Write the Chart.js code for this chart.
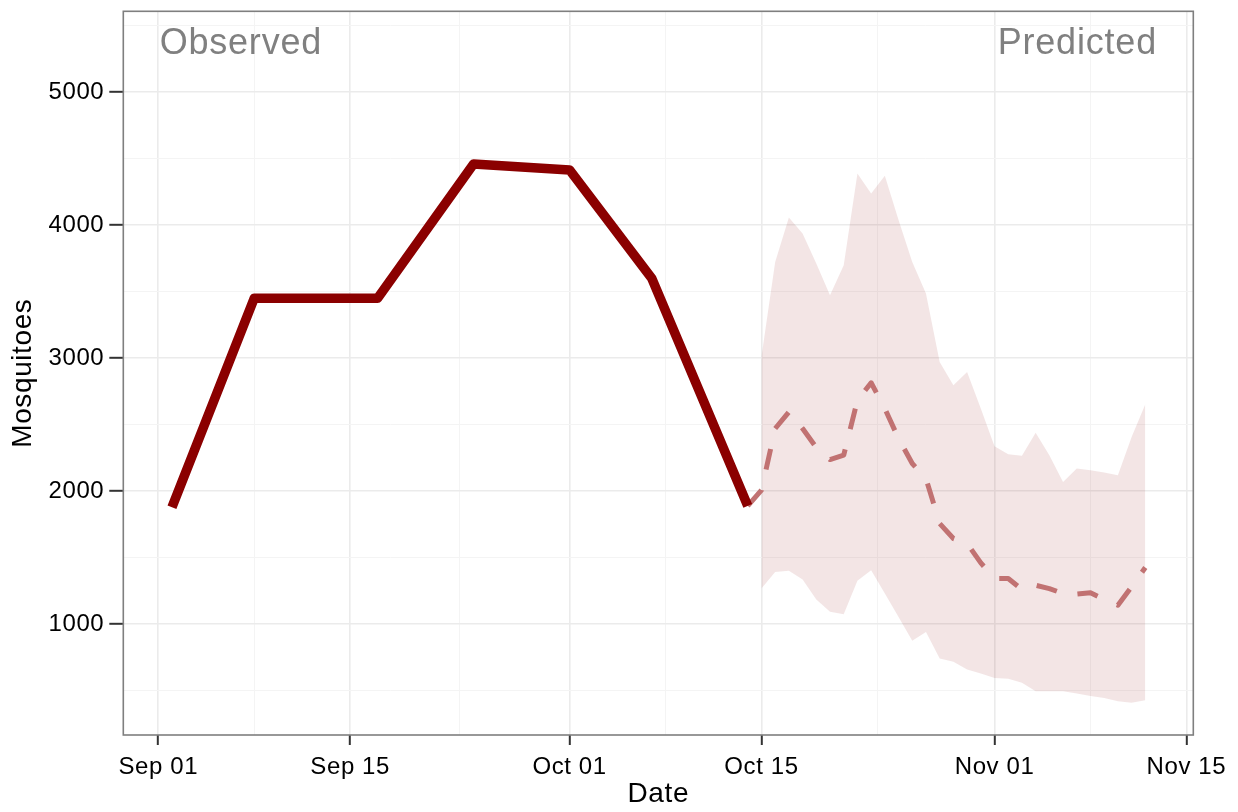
<!DOCTYPE html>
<html>
<head>
<meta charset="utf-8">
<script src="https://cdn.jsdelivr.net/npm/chart.js@4/dist/chart.umd.min.js"></script>
<style>
  html, body { margin: 0; padding: 0; background: #ffffff; }
  #wrap { width: 1238px; height: 812px; }
</style>
</head>
<body>
<div id="wrap"><canvas id="c" width="1238" height="812"></canvas></div>
<script>
// ---------------- data ----------------
const observedDates  = ['2015-09-02','2015-09-08','2015-09-17','2015-09-24','2015-10-01','2015-10-07','2015-10-14'];
const observedValues = [1880, 3450, 3450, 4460, 4415, 3600, 1890];

const predictedDates = ['2015-10-14',
  '2015-10-15','2015-10-16','2015-10-17','2015-10-18','2015-10-19','2015-10-20','2015-10-21',
  '2015-10-22','2015-10-23','2015-10-24','2015-10-25','2015-10-26','2015-10-27','2015-10-28',
  '2015-10-29','2015-10-30','2015-10-31','2015-11-01','2015-11-02','2015-11-03','2015-11-04',
  '2015-11-05','2015-11-06','2015-11-07','2015-11-08','2015-11-09','2015-11-10','2015-11-11','2015-11-12'];
const predictedMedian = [1890,
  2008, 2471, 2596, 2471, 2328, 2238, 2271,
  2684, 2815, 2621, 2396, 2208, 2095, 1757,
  1644, 1607, 1461, 1344, 1344, 1261, 1293,
  1268, 1231, 1226, 1236, 1186, 1143, 1281, 1426];

const ribbonDates = predictedDates.slice(1);
const ribbonUpper = [
  3010, 3724, 4058, 3937, 3712, 3474, 3699,
  4389, 4239, 4371, 4038, 3724, 3486, 2972,
  2797, 2897, 2621, 2338, 2278, 2266, 2439,
  2271, 2070, 2170, 2158, 2140, 2120, 2408, 2654];
const ribbonLower = [
  1268, 1393, 1401, 1336, 1186, 1093, 1075,
  1326, 1406, 1231, 1055, 875, 942, 742,
  717, 659, 629, 596, 589, 559, 496,
  496, 496, 479, 461, 446, 421, 409, 429];

const xTickDates  = ['2015-09-01','2015-09-15','2015-10-01','2015-10-15','2015-11-01','2015-11-15'];
const xTickLabels = ['Sep 01','Sep 15','Oct 01','Oct 15','Nov 01','Nov 15'];
const xMinorDates = ['2015-09-08','2015-09-23','2015-10-08','2015-10-23T12:00','2015-11-08'];
const yTickValues = [1000, 2000, 3000, 4000, 5000];
const yMinorValues = [500, 1500, 2500, 3500, 4500, 5500];

const annotationTexts = ['Observed', 'Predicted'];

// -------------- helpers --------------
const ORIGIN = Date.UTC(2015, 8, 1);
function dayNum(s) {
  const d = new Date(s.length > 10 ? s + 'Z' : s + 'T00:00:00Z');
  return (d.getTime() - ORIGIN) / 86400000;
}
const pts = (ds, vs) => ds.map((d, i) => ({ x: dayNum(d), y: vs[i] }));

const xMajor = xTickDates.map(dayNum);
const xMinor = xMinorDates.map(dayNum);
const xLabelMap = {};
xMajor.forEach((v, i) => { xLabelMap[v] = xTickLabels[i]; });
const isXMinor = v => xMinor.indexOf(v) >= 0;
const isYMinor = v => yMinorValues.indexOf(v) >= 0;

const FONT = "'Liberation Sans', Arial, sans-serif";
Chart.defaults.font.family = FONT;
Chart.defaults.color = '#000000';

const spacingPlugin = {
  id: 'spacing',
  beforeDraw(chart) { chart.ctx.letterSpacing = '0.6px'; }
};

const panelPlugin = {
  id: 'panel',
  afterDatasetsDraw(chart) {
    const { ctx, chartArea: a, scales } = chart;
    ctx.save();
    ctx.letterSpacing = '0.8px';
    ctx.fillStyle = '#808080';
    ctx.font = '36px ' + FONT;
    ctx.textBaseline = 'alphabetic';
    const ty = scales.y.getPixelForValue(5290);
    ctx.textAlign = 'left';
    ctx.fillText(annotationTexts[0], scales.x.getPixelForValue(0.1), ty);
    ctx.textAlign = 'right';
    ctx.fillText(annotationTexts[1], scales.x.getPixelForValue(72.85), ty);
    ctx.strokeStyle = '#7f7f7f';
    ctx.lineWidth = 1.6;
    ctx.letterSpacing = '0px';
    ctx.strokeRect(a.left, a.top, a.right - a.left, a.bottom - a.top);
    ctx.restore();
  }
};

new Chart(document.getElementById('c'), {
  type: 'line',
  data: {
    datasets: [
      {
        label: 'Observed',
        data: pts(observedDates, observedValues),
        borderColor: '#8b0000',
        borderWidth: 9.5,
        borderJoinStyle: 'round',
        borderCapStyle: 'butt',
        pointRadius: 0,
        tension: 0,
        fill: false
      },
      {
        label: 'Predicted',
        data: pts(predictedDates, predictedMedian),
        borderColor: '#c17272',
        borderWidth: 5,
        borderDash: [21, 21],
        borderJoinStyle: 'round',
        borderCapStyle: 'butt',
        pointRadius: 0,
        tension: 0,
        fill: false
      },
      {
        label: 'Upper',
        data: pts(ribbonDates, ribbonUpper),
        borderWidth: 0,
        borderColor: 'rgba(0,0,0,0)',
        backgroundColor: 'rgba(139,0,0,0.1)',
        pointRadius: 0,
        tension: 0,
        fill: '+1'
      },
      {
        label: 'Lower',
        data: pts(ribbonDates, ribbonLower),
        borderWidth: 0,
        borderColor: 'rgba(0,0,0,0)',
        pointRadius: 0,
        tension: 0,
        fill: false
      }
    ]
  },
  options: {
    responsive: false,
    devicePixelRatio: 1,
    animation: false,
    events: [],
    layout: { padding: { left: 0, right: 44.7, top: 11.3, bottom: 0 } },
    plugins: { legend: { display: false }, tooltip: { enabled: false } },
    scales: {
      x: {
        type: 'linear',
        min: -2.55,
        max: 75.5,
        afterBuildTicks: s => { s.ticks = xMajor.concat(xMinor).sort((a, b) => a - b).map(v => ({ value: v })); },
        afterFit: s => { s.height = 77; s.paddingLeft = 0; s.paddingRight = 0; },
        border: { display: false },
        grid: {
          color: c => isXMinor(c.tick.value) ? '#f4f4f4' : '#ebebeb',
          lineWidth: c => isXMinor(c.tick.value) ? 1 : 1.6,
          tickColor: c => isXMinor(c.tick.value) ? 'rgba(0,0,0,0)' : '#333333',
          tickWidth: 2,
          tickLength: 10,
          drawTicks: true
        },
        ticks: {
          autoSkip: false,
          maxRotation: 0,
          padding: 8,
          color: '#000000',
          font: { size: 24 },
          callback: v => xLabelMap[v] !== undefined ? xLabelMap[v] : ''
        },
        title: {
          display: true,
          text: 'Date',
          color: '#000000',
          font: { size: 28 },
          padding: { top: 0, bottom: 1 }
        }
      },
      y: {
        min: 167,
        max: 5608,
        afterBuildTicks: s => { s.ticks = yTickValues.concat(yMinorValues).sort((a, b) => a - b).map(v => ({ value: v })); },
        afterFit: s => { s.width = 123.3; s.paddingTop = 0; s.paddingBottom = 0; },
        border: { display: false },
        grid: {
          color: c => isYMinor(c.tick.value) ? '#f4f4f4' : '#ebebeb',
          lineWidth: c => isYMinor(c.tick.value) ? 1 : 1.6,
          tickColor: c => isYMinor(c.tick.value) ? 'rgba(0,0,0,0)' : '#333333',
          tickWidth: 2,
          tickLength: 14,
          drawTicks: true
        },
        ticks: {
          autoSkip: false,
          padding: 5,
          color: '#000000',
          font: { size: 24 },
          callback: v => yTickValues.indexOf(v) >= 0 ? String(v) : ''
        },
        title: {
          display: true,
          text: 'Mosquitoes',
          color: '#000000',
          font: { size: 28 },
          padding: { top: 6, bottom: 0 }
        }
      }
    }
  },
  plugins: [spacingPlugin, panelPlugin]
});
</script>
</body>
</html>
